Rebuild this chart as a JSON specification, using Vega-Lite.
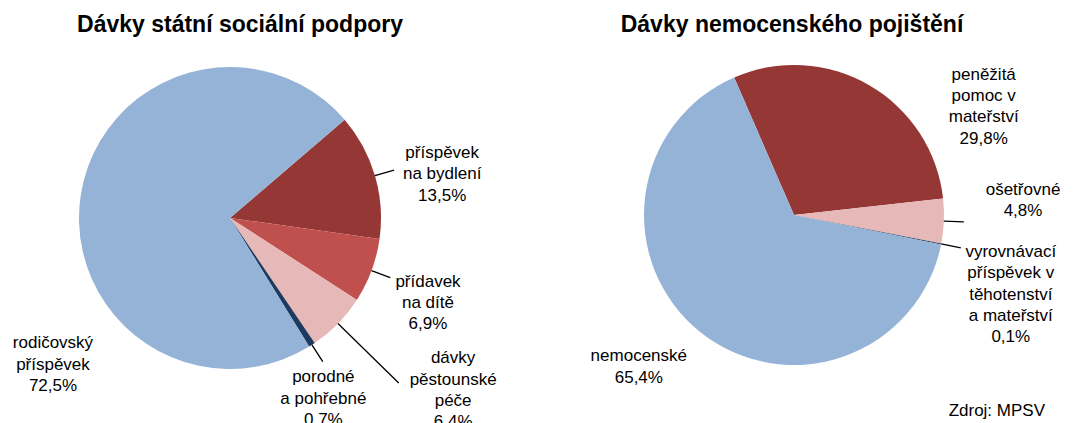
{
  "$schema": "https://vega.github.io/schema/vega-lite/v6.json",
  "width": 1091,
  "height": 423,
  "autosize": "none",
  "padding": 0,
  "background": "white",
  "config": {"view": {"stroke": null}, "font": "Liberation Sans"},
  "datasets": {
    "ssp": [
      {"panel": "ssp", "kategorie": "příspěvek na bydlení", "poradi": 1, "podil": 13.5, "popisek": "příspěvek\nna bydlení\n13,5%"},
      {"panel": "ssp", "kategorie": "přídavek na dítě", "poradi": 2, "podil": 6.9, "popisek": "přídavek\nna dítě\n6,9%"},
      {"panel": "ssp", "kategorie": "dávky pěstounské péče", "poradi": 3, "podil": 6.4, "popisek": "dávky\npěstounské\npéče\n6,4%"},
      {"panel": "ssp", "kategorie": "porodné a pohřebné", "poradi": 4, "podil": 0.7, "popisek": "porodné\na pohřebné\n0,7%"},
      {"panel": "ssp", "kategorie": "rodičovský příspěvek", "poradi": 5, "podil": 72.5, "popisek": "rodičovský\npříspěvek\n72,5%"}
    ],
    "np": [
      {"panel": "np", "kategorie": "peněžitá pomoc v mateřství", "poradi": 1, "podil": 29.8, "popisek": "peněžitá\npomoc v\nmateřství\n29,8%"},
      {"panel": "np", "kategorie": "ošetřovné", "poradi": 2, "podil": 4.8, "popisek": "ošetřovné\n4,8%"},
      {"panel": "np", "kategorie": "vyrovnávací příspěvek v těhotenství a mateřství", "poradi": 3, "podil": 0.1, "popisek": "vyrovnávací\npříspěvek v\ntěhotenství\na mateřství\n0,1%"},
      {"panel": "np", "kategorie": "nemocenské", "poradi": 4, "podil": 65.4, "popisek": "nemocenské\n65,4%"}
    ],
    "nadpisy": [
      {"panel": "ssp", "nazev": "Dávky státní sociální podpory", "druh": "nadpis"},
      {"panel": "np", "nazev": "Dávky nemocenského pojištění", "druh": "nadpis"},
      {"panel": "np", "nazev": "Zdroj: MPSV", "druh": "zdroj"}
    ]
  },
  "layer": [
    {
      "data": {"name": "ssp"},
      "encoding": {
        "x": {"field": "panel", "type": "nominal", "scale": {"type": "point", "domain": ["ssp", "np"], "range": [230, 794], "padding": 0}, "axis": null},
        "y": {"field": "panel", "type": "nominal", "scale": {"type": "point", "domain": ["ssp", "np"], "range": [218, 215], "padding": 0}, "axis": null},
        "theta": {"field": "podil", "type": "quantitative", "stack": true, "scale": {"range": [0.86219, 7.14538]}},
        "order": {"field": "poradi", "type": "quantitative", "sort": "ascending"}
      },
      "layer": [
        {
          "mark": {"type": "arc", "outerRadius": 151},
          "encoding": {
            "color": {"field": "kategorie", "type": "nominal", "legend": null,
              "scale": {"domain": ["příspěvek na bydlení", "přídavek na dítě", "dávky pěstounské péče", "porodné a pohřebné", "rodičovský příspěvek"],
                        "range": ["#953735", "#C0504D", "#E6B9B8", "#1F3A5F", "#95B3D7"]}}
          }
        },
        {
          "mark": {"type": "arc", "innerRadius": 151, "outerRadius": 171, "padAngle": 3.2, "filled": false, "stroke": "black", "strokeWidth": 1.3},
          "encoding": {"detail": {"field": "kategorie", "type": "nominal"},
            "strokeOpacity": {"condition": {"test": "datum.poradi === 1 || datum.poradi === 2 || datum.poradi === 4", "value": 1}, "value": 0}}
        },
        {
          "mark": {"type": "arc", "innerRadius": 151, "outerRadius": 236, "padAngle": 3.2, "filled": false, "stroke": "black", "strokeWidth": 1.3},
          "encoding": {"detail": {"field": "kategorie", "type": "nominal"},
            "strokeOpacity": {"condition": {"test": "datum.poradi === 3", "value": 1}, "value": 0}}
        },
        {
          "mark": {"type": "text", "radius": 217, "dx": 3.9, "dy": -4, "fontSize": 17, "font": "Liberation Sans", "lineBreak": "\n", "lineHeight": 21.3, "align": "center", "baseline": "middle", "color": "black"},
          "encoding": {"detail": {"field": "kategorie", "type": "nominal"},
            "text": {"condition": {"test": "datum.poradi === 1", "field": "popisek", "type": "nominal"}, "value": ""}}
        },
        {
          "mark": {"type": "text", "radius": 215, "dx": -3.5, "dy": -11.5, "fontSize": 17, "font": "Liberation Sans", "lineBreak": "\n", "lineHeight": 21.3, "align": "center", "baseline": "middle", "color": "black"},
          "encoding": {"detail": {"field": "kategorie", "type": "nominal"},
            "text": {"condition": {"test": "datum.poradi === 2", "field": "popisek", "type": "nominal"}, "value": ""}}
        },
        {
          "mark": {"type": "text", "radius": 282, "dx": 21.5, "dy": -56.8, "fontSize": 17, "font": "Liberation Sans", "lineBreak": "\n", "lineHeight": 21.3, "align": "center", "baseline": "middle", "color": "black"},
          "encoding": {"detail": {"field": "kategorie", "type": "nominal"},
            "text": {"condition": {"test": "datum.poradi === 3", "field": "popisek", "type": "nominal"}, "value": ""}}
        },
        {
          "mark": {"type": "text", "radius": 203, "dx": -16.8, "dy": -11.1, "fontSize": 17, "font": "Liberation Sans", "lineBreak": "\n", "lineHeight": 21.3, "align": "center", "baseline": "middle", "color": "black"},
          "encoding": {"detail": {"field": "kategorie", "type": "nominal"},
            "text": {"condition": {"test": "datum.poradi === 4", "field": "popisek", "type": "nominal"}, "value": ""}}
        },
        {
          "mark": {"type": "text", "radius": 230, "dx": 50.2, "dy": 160.8, "fontSize": 17, "font": "Liberation Sans", "lineBreak": "\n", "lineHeight": 21.3, "align": "center", "baseline": "middle", "color": "black"},
          "encoding": {"detail": {"field": "kategorie", "type": "nominal"},
            "text": {"condition": {"test": "datum.poradi === 5", "field": "popisek", "type": "nominal"}, "value": ""}}
        }
      ]
    },
    {
      "data": {"name": "np"},
      "encoding": {
        "x": {"field": "panel", "type": "nominal", "scale": {"type": "point", "domain": ["ssp", "np"], "range": [230, 794], "padding": 0}, "axis": null},
        "y": {"field": "panel", "type": "nominal", "scale": {"type": "point", "domain": ["ssp", "np"], "range": [218, 215], "padding": 0}, "axis": null},
        "theta": {"field": "podil", "type": "quantitative", "stack": true, "scale": {"range": [-0.41015, 5.87304]}},
        "order": {"field": "poradi", "type": "quantitative", "sort": "ascending"}
      },
      "layer": [
        {
          "mark": {"type": "arc", "outerRadius": 150},
          "encoding": {
            "color": {"field": "kategorie", "type": "nominal", "legend": null,
              "scale": {"domain": ["peněžitá pomoc v mateřství", "ošetřovné", "vyrovnávací příspěvek v těhotenství a mateřství", "nemocenské"],
                        "range": ["#953735", "#E6B9B8", "#1F3A5F", "#95B3D7"]}}
          }
        },
        {
          "mark": {"type": "arc", "innerRadius": 150, "outerRadius": 170, "padAngle": 3.2, "filled": false, "stroke": "black", "strokeWidth": 1.3},
          "encoding": {"detail": {"field": "kategorie", "type": "nominal"},
            "strokeOpacity": {"condition": {"test": "datum.poradi === 2 || datum.poradi === 3", "value": 1}, "value": 0}}
        },
        {
          "mark": {"type": "text", "radius": 219, "dx": 79.9, "dy": 49.2, "fontSize": 17, "font": "Liberation Sans", "lineBreak": "\n", "lineHeight": 21.3, "align": "center", "baseline": "middle", "color": "black"},
          "encoding": {"detail": {"field": "kategorie", "type": "nominal"},
            "text": {"condition": {"test": "datum.poradi === 1", "field": "popisek", "type": "nominal"}, "value": ""}}
        },
        {
          "mark": {"type": "text", "radius": 230, "dx": -0.8, "dy": -34.2, "fontSize": 17, "font": "Liberation Sans", "lineBreak": "\n", "lineHeight": 21.3, "align": "center", "baseline": "middle", "color": "black"},
          "encoding": {"detail": {"field": "kategorie", "type": "nominal"},
            "text": {"condition": {"test": "datum.poradi === 2", "field": "popisek", "type": "nominal"}, "value": ""}}
        },
        {
          "mark": {"type": "text", "radius": 231, "dx": -9.9, "dy": -7.5, "fontSize": 17, "font": "Liberation Sans", "lineBreak": "\n", "lineHeight": 21.3, "align": "center", "baseline": "middle", "color": "black"},
          "encoding": {"detail": {"field": "kategorie", "type": "nominal"},
            "text": {"condition": {"test": "datum.poradi === 3", "field": "popisek", "type": "nominal"}, "value": ""}}
        },
        {
          "mark": {"type": "text", "radius": 218, "dx": -18.3, "dy": -28.4, "fontSize": 17, "font": "Liberation Sans", "lineBreak": "\n", "lineHeight": 21.3, "align": "center", "baseline": "middle", "color": "black"},
          "encoding": {"detail": {"field": "kategorie", "type": "nominal"},
            "text": {"condition": {"test": "datum.poradi === 4", "field": "popisek", "type": "nominal"}, "value": ""}}
        }
      ]
    },
    {
      "data": {"name": "nadpisy"},
      "encoding": {
        "x": {"field": "panel", "type": "nominal", "scale": {"type": "point", "domain": ["ssp", "np"], "range": [230, 794], "padding": 0}, "axis": null},
        "y": {"field": "panel", "type": "nominal", "scale": {"type": "point", "domain": ["ssp", "np"], "range": [218, 215], "padding": 0}, "axis": null},
        "text": {"field": "nazev", "type": "nominal"}
      },
      "layer": [
        {
          "transform": [{"filter": "datum.panel === 'ssp' && datum.druh === 'nadpis'"}],
          "mark": {"type": "text", "dx": 10, "dy": -186, "fontSize": 23, "fontWeight": "bold", "font": "Liberation Sans", "align": "center", "baseline": "alphabetic", "color": "black"}
        },
        {
          "transform": [{"filter": "datum.panel === 'np' && datum.druh === 'nadpis'"}],
          "mark": {"type": "text", "dx": -2, "dy": -183, "fontSize": 23, "fontWeight": "bold", "font": "Liberation Sans", "align": "center", "baseline": "alphabetic", "color": "black"}
        },
        {
          "transform": [{"filter": "datum.druh === 'zdroj'"}],
          "mark": {"type": "text", "dx": 251, "dy": 201, "fontSize": 17, "font": "Liberation Sans", "align": "right", "baseline": "alphabetic", "color": "black"}
        }
      ]
    }
  ],
  "resolve": {"scale": {"theta": "independent", "color": "independent"}}
}
